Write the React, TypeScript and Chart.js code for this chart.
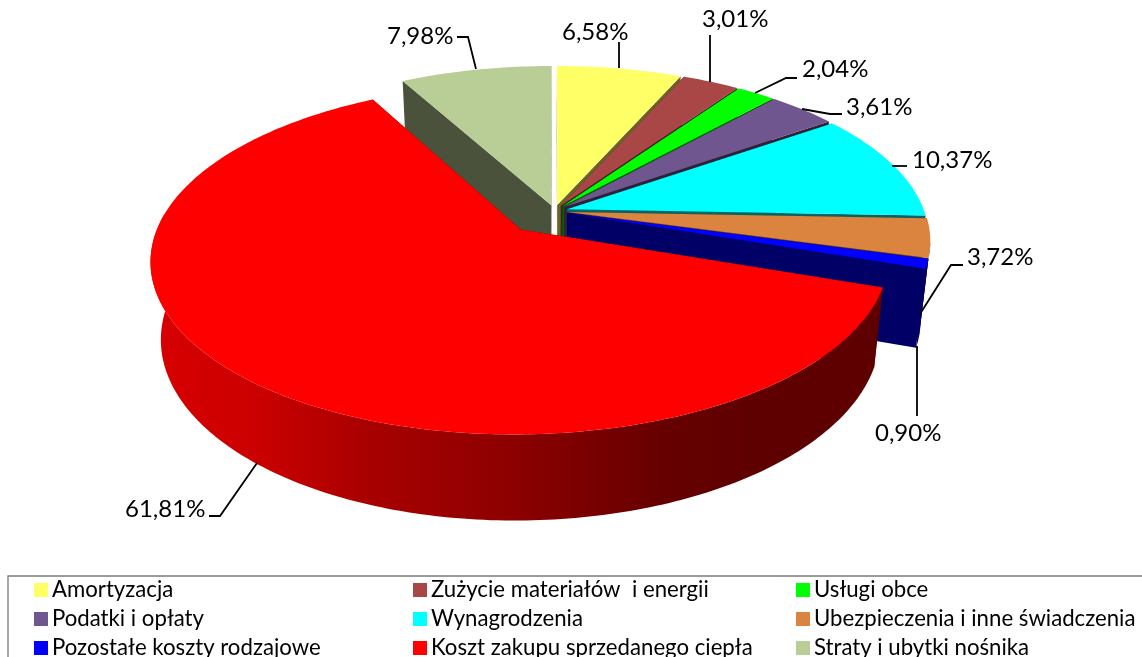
import React, { useEffect, useRef } from "react";
import { Chart, registerables } from "chart.js";

Chart.register(...registerables);

const categories = [
  "Amortyzacja",
  "Zużycie materiałów  i energii",
  "Usługi obce",
  "Podatki i opłaty",
  "Wynagrodzenia",
  "Ubezpieczenia i inne świadczenia",
  "Pozostałe koszty rodzajowe",
  "Koszt zakupu sprzedanego ciepła",
  "Straty i ubytki nośnika",
];
const shares = [6.58, 3.01, 2.04, 3.61, 10.37, 3.72, 0.9, 61.81, 7.98];
const sliceColors = ["#FFFF66", "#A84746", "#00FF00", "#70568F", "#00FFFF", "#DA843F", "#0000FF", "#FF0000", "#B9CD96"];
const explode = [3.7, 3.7, 3.7, 3.7, 3.7, 3.7, 3.7, 14.5, 3.7];
// Back-to-front painting order of the slices.
const paintOrder = [8, 0, 1, 2, 3, 4, 5, 6, 7];

// Layout of the value labels: text left edge, text middle, then the leader polyline.
const labelLayout: { x: number; y: number; leader: number[][] }[] = [
  { x: 562, y: 32, leader: [[619, 42], [619, 68]] },
  { x: 702, y: 19, leader: [[710, 35], [710, 82]] },
  { x: 802, y: 69, leader: [[755, 93], [786, 78], [797, 78]] },
  { x: 846, y: 107, leader: [[802, 109], [830, 114], [842, 114]] },
  { x: 912, y: 160, leader: [[892, 166], [907, 166]] },
  { x: 967, y: 257, leader: [[920, 314], [951, 265], [963, 265]] },
  { x: 875, y: 433, leader: [[917, 346], [917, 416]] },
  { x: 125, y: 509, leader: [[257, 463], [220, 516], [209, 516]] },
  { x: 387, y: 36, leader: [[457, 37], [468, 37], [476, 69]] },
];
const legendColumns = [34, 413, 796];
const legendRows = [590, 619, 648];
const FONT = 'Lato, "Open Sans", sans-serif';

// Projection of the tilted disc onto the page
const CX = 554.5, CY = 211, AX = 357, BY = 164, PERSP = 0.166, DEPTH = 78, CONV = 0.025;
function project(u: number, v: number, z: number) {
  const w = 1 - PERSP * v + CONV * z;
  return [CX + (AX * u) / w, CY + (BY * v + DEPTH * z) / w];
}
function darken(hex: string, f: number) {
  const n = parseInt(hex.slice(1), 16);
  const c = [(n >> 16) & 255, (n >> 8) & 255, n & 255].map((x) => Math.round(x * f));
  return `rgb(${c[0]},${c[1]},${c[2]})`;
}
function poly(ctx: CanvasRenderingContext2D, pts: number[][], fill: any) {
  ctx.beginPath();
  pts.forEach((p, i) => (i ? ctx.lineTo(p[0], p[1]) : ctx.moveTo(p[0], p[1])));
  ctx.closePath();
  ctx.fillStyle = fill;
  ctx.fill();
}

const pie3d = {
  id: "pie3d",
  beforeDatasetsDraw() {
    return false;
  },
  afterDraw(chart: any) {
    const ctx: CanvasRenderingContext2D = chart.ctx;
    const meta = chart.getDatasetMeta(0);
    const ds = chart.data.datasets[0];
    const largest = shares.indexOf(Math.max(...shares));
    ctx.save();
    paintOrder.forEach((i) => {
      const arc = meta.data[i];
      const a0 = arc.startAngle, a1 = arc.endAngle;
      const mid = (a0 + a1) / 2;
      const e = (arc.options.offset || 0) / 100;
      const ou = e * Math.cos(mid), ov = e * Math.sin(mid);
      const color = arc.options.backgroundColor as string;
      const side = darken(color, 0.4);
      const steps = Math.max(6, Math.ceil((a1 - a0) * 60));
      const rim: number[][] = [];
      for (let k = 0; k <= steps; k++) {
        const t = a0 + ((a1 - a0) * k) / steps;
        rim.push([ou + Math.cos(t), ov + Math.sin(t)]);
      }
      const at = (p: number[], z: number) => project(p[0], p[1], z);
      const apex = [ou, ov];
      // radial walls
      poly(ctx, [at(apex, 0), at(rim[0], 0), at(rim[0], 1), at(apex, 1)], side);
      poly(ctx, [at(apex, 0), at(rim[steps], 0), at(rim[steps], 1), at(apex, 1)], side);
      // outer wall: only the part that faces the viewer
      const limit = i === largest ? -0.1 : PERSP;
      const front = rim.filter((p) => p[1] - ov > limit);
      if (front.length > 1) {
        let fill: any = side;
        if (i === largest) {
          const g = ctx.createLinearGradient(150, 0, 880, 0);
          [[0, 0xd8], [0.14, 0xcc], [0.3, 0xa8], [0.5, 0x8c], [0.7, 0x66], [0.85, 0x5e], [1, 0x5e]].forEach(([s, r]) =>
            g.addColorStop(s, `rgb(${r},0,0)`)
          );
          fill = g;
        }
        poly(ctx, [...front.map((p) => at(p, 0)), ...front.slice().reverse().map((p) => at(p, 1))], fill);
      }
      // top face
      poly(ctx, [at(apex, 0), ...rim.map((p) => at(p, 0))], color);
    });
    // value labels with leaders
    ctx.strokeStyle = "#000";
    ctx.lineWidth = 1.8;
    ctx.fillStyle = "#000";
    ctx.font = `24px ${FONT}`;
    ctx.textBaseline = "middle";
    ctx.textAlign = "left";
    ds.data.forEach((v: number, i: number) => {
      const l = labelLayout[i];
      ctx.beginPath();
      l.leader.forEach((p, k) => (k ? ctx.lineTo(p[0], p[1]) : ctx.moveTo(p[0], p[1])));
      ctx.stroke();
      ctx.fillText(v.toFixed(2).replace(".", ",") + "%", l.x, l.y);
    });
    // legend box
    ctx.strokeStyle = "#7a7a7a";
    ctx.lineWidth = 1.3;
    ctx.beginPath();
    ctx.moveTo(8, 670);
    ctx.lineTo(8, 576);
    ctx.lineTo(1150, 576);
    ctx.stroke();
    chart.data.labels.forEach((name: string, i: number) => {
      const x = legendColumns[i % 3], y = legendRows[Math.floor(i / 3)];
      ctx.fillStyle = sliceColors[i];
      ctx.fillRect(x, y - 7, 14, 14);
      ctx.fillStyle = "#000";
      ctx.font = `22.2px ${FONT}`;
      ctx.fillText(name, x + 18, y);
    });
    ctx.restore();
  },
};

export default function App() {
  const ref = useRef<HTMLCanvasElement>(null);
  useEffect(() => {
    document.body.style.margin = "0";
    document.body.style.overflow = "hidden";
    const chart = new Chart(ref.current!, {
      type: "pie",
      data: {
        labels: categories,
        datasets: [{ data: shares, backgroundColor: sliceColors, offset: explode, borderWidth: 0 }],
      },
      options: {
        responsive: false,
        animation: false,
        plugins: { legend: { display: false }, tooltip: { enabled: false } },
      },
      plugins: [pie3d],
    } as any);
    return () => chart.destroy();
  }, []);
  return <canvas ref={ref} width={1142} height={657} style={{ display: "block", background: "#fff" }} />;
}
